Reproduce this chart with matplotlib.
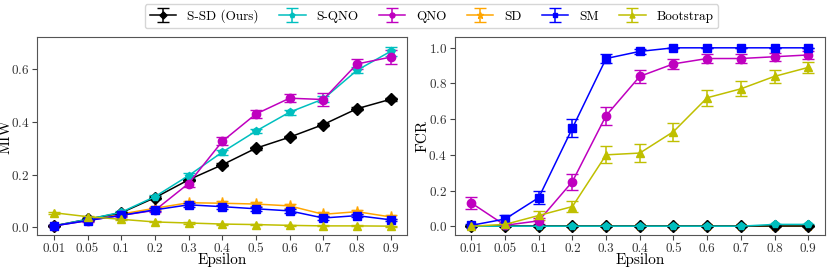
import matplotlib
matplotlib.use("Agg")
import matplotlib.pyplot as plt
import numpy as np

plt.rcParams["font.family"] = "serif"
plt.rcParams["font.serif"] = ["cmr10"]
plt.rcParams["mathtext.fontset"] = "cm"
plt.rcParams["axes.formatter.use_mathtext"] = True

eps_labels = ["0.01", "0.05", "0.1", "0.2", "0.3", "0.4", "0.5", "0.6", "0.7", "0.8", "0.9"]

methods = ["S-SD (Ours)", "S-QNO", "QNO", "SD", "SM", "Bootstrap"]
colors = ["k", "c", "m", "orange", "b", "y"]
markers = ["D", "p", "o", "*", "s", "^"]

# MIW means and errors
miw_ssd = [0.005, 0.03, 0.055, 0.112, 0.18, 0.237, 0.30, 0.342, 0.39, 0.45, 0.486]
miw_sqno = [0.005, 0.03, 0.057, 0.116, 0.196, 0.285, 0.365, 0.437, 0.487, 0.596, 0.668]
miw_qno = [0.005, 0.025, 0.045, 0.064, 0.166, 0.326, 0.43, 0.49, 0.485, 0.62, 0.646]
miw_sd = [0.005, 0.027, 0.05, 0.072, 0.093, 0.091, 0.088, 0.081, 0.049, 0.059, 0.039]
miw_sm = [0.005, 0.025, 0.045, 0.066, 0.085, 0.078, 0.07, 0.062, 0.035, 0.044, 0.028]
miw_boot = [0.055, 0.04, 0.03, 0.02, 0.016, 0.012, 0.01, 0.007, 0.005, 0.005, 0.004]

miw_ssd_err = [0.002, 0.003, 0.004, 0.005, 0.005, 0.005, 0.005, 0.005, 0.005, 0.005, 0.005]
miw_sqno_err = [0.002, 0.004, 0.005, 0.007, 0.008, 0.009, 0.008, 0.01, 0.013, 0.012, 0.018]
miw_qno_err = [0.002, 0.004, 0.005, 0.008, 0.012, 0.015, 0.016, 0.016, 0.024, 0.02, 0.027]
miw_sd_err = [0.002, 0.003, 0.004, 0.006, 0.008, 0.008, 0.008, 0.008, 0.007, 0.008, 0.006]
miw_sm_err = [0.002, 0.003, 0.004, 0.006, 0.007, 0.007, 0.007, 0.007, 0.006, 0.007, 0.005]
miw_boot_err = [0.003, 0.003, 0.003, 0.002, 0.002, 0.002, 0.002, 0.002, 0.002, 0.002, 0.002]

# FCR means and errors
fcr_ssd = [0, 0, 0, 0, 0, 0, 0, 0, 0, 0, 0]
fcr_sqno = [0, 0, 0, 0, 0, 0, 0, 0, 0, 0.01, 0.01]
fcr_qno = [0.13, 0.005, 0.03, 0.25, 0.62, 0.84, 0.91, 0.94, 0.94, 0.95, 0.96]
fcr_sd = [0, 0, 0, 0, 0, 0, 0, 0, 0, 0, 0]
fcr_sm = [0.005, 0.04, 0.16, 0.55, 0.94, 0.98, 1.0, 1.0, 1.0, 1.0, 1.0]
fcr_boot = [0.0, 0.01, 0.06, 0.11, 0.40, 0.41, 0.53, 0.72, 0.77, 0.84, 0.89]

fcr_ssd_err = [0, 0, 0, 0, 0, 0, 0, 0, 0, 0, 0]
fcr_sqno_err = [0, 0, 0, 0, 0, 0, 0, 0, 0, 0.005, 0.005]
fcr_qno_err = [0.035, 0.005, 0.015, 0.045, 0.05, 0.037, 0.028, 0.024, 0.024, 0.022, 0.02]
fcr_sd_err = [0, 0, 0, 0, 0, 0, 0, 0, 0, 0, 0]
fcr_sm_err = [0.005, 0.02, 0.037, 0.05, 0.024, 0.014, 0.0, 0.0, 0.0, 0.0, 0.0]
fcr_boot_err = [0.0, 0.01, 0.024, 0.031, 0.048, 0.05, 0.05, 0.045, 0.042, 0.037, 0.032]

miw = [miw_ssd, miw_sqno, miw_qno, miw_sd, miw_sm, miw_boot]
miw_err = [miw_ssd_err, miw_sqno_err, miw_qno_err, miw_sd_err, miw_sm_err, miw_boot_err]
fcr = [fcr_ssd, fcr_sqno, fcr_qno, fcr_sd, fcr_sm, fcr_boot]
fcr_err = [fcr_ssd_err, fcr_sqno_err, fcr_qno_err, fcr_sd_err, fcr_sm_err, fcr_boot_err]

x = np.arange(len(eps_labels))

fig, axes = plt.subplots(1, 2, figsize=(8.3, 2.69), dpi=100)
fig.subplots_adjust(left=0.0446, right=0.994, bottom=0.126, top=0.862, wspace=0.127)

panels = [(axes[0], miw, miw_err, "MIW"), (axes[1], fcr, fcr_err, "FCR")]
for ax, vals, errs, ylab in panels:
    for name, c, m, v, e in zip(methods, colors, markers, vals, errs):
        ms = 8 if m == "*" else 6
        z = 1.5 if name == "SD" else 2
        ax.errorbar(x, v, yerr=e, color=c, marker=m, markersize=ms, linewidth=1.1,
                    elinewidth=1.1, capsize=4, ecolor=c, label=name, zorder=z)
    ax.set_xticks(x)
    ax.set_xticklabels(eps_labels)
    ax.set_xlim(-0.5, 10.5)
    ax.set_xlabel("Epsilon", fontsize=11, labelpad=-1)
    ax.set_ylabel(ylab, fontsize=11)
    ax.yaxis.set_label_coords(-0.067, 0.5)
    ax.tick_params(labelsize=9.5, pad=2, colors="#444444", labelcolor="#333333")
    for s in ax.spines.values():
        s.set_color("#555555")

axes[0].set_ylim(-0.03, 0.722)
axes[0].set_yticks([0.0, 0.2, 0.4, 0.6])
axes[1].set_ylim(-0.05, 1.06)
axes[1].set_yticks([0.0, 0.2, 0.4, 0.6, 0.8, 1.0])

handles, labels = axes[0].get_legend_handles_labels()
fig.legend(handles, labels, loc="upper center", bbox_to_anchor=(0.52, 1.01), ncol=6,
           fontsize=9.5, markerscale=0.6, frameon=True, columnspacing=1.57,
           handlelength=2.0, handletextpad=0.8, edgecolor="#cccccc")

plt.savefig("out.png", dpi=100)
